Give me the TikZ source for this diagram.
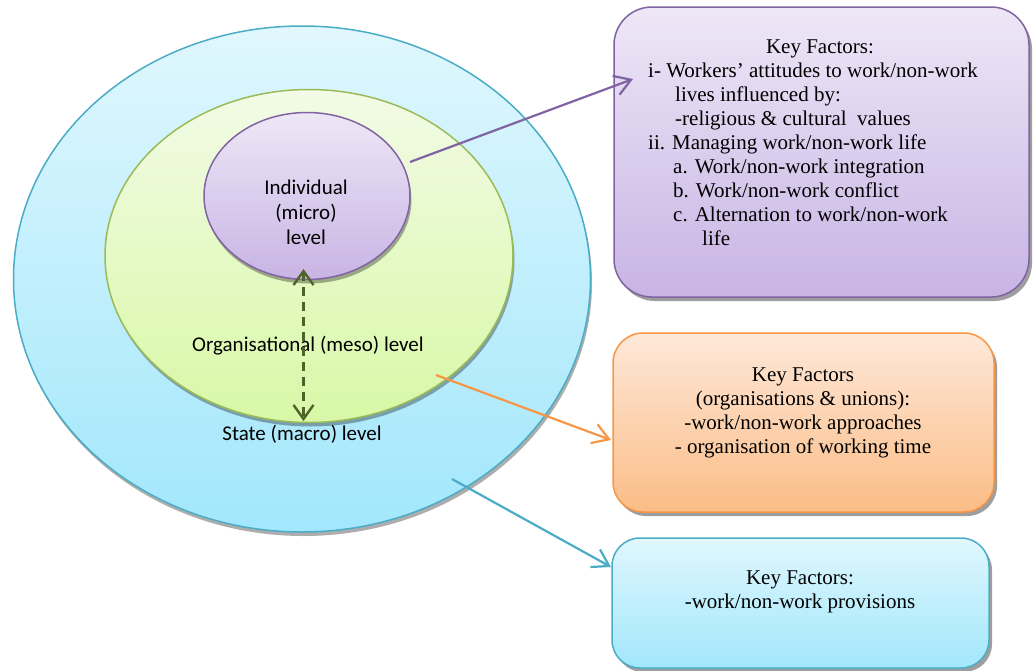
\documentclass[tikz,border=0pt]{standalone}
\usepackage{fontspec}
\setmainfont{Liberation Serif}
\newfontfamily\calibrifont{Carlito}
\usetikzlibrary{shapes.geometric,shadows,arrows.meta}
\definecolor{aquaB}{HTML}{4BACC6}
\definecolor{greenB}{HTML}{9BBB59}
\definecolor{purpB}{HTML}{8064A2}
\definecolor{orangeB}{HTML}{F79646}
\definecolor{oliveA}{HTML}{4F6228}
\definecolor{aquaTop}{HTML}{E0F7FD}
\definecolor{aquaBot}{HTML}{A2E7FC}
\definecolor{greenTop}{HTML}{F2FBE6}
\definecolor{greenBot}{HTML}{D8F8A6}
\definecolor{purpTop}{HTML}{EEE7F7}
\definecolor{purpBot}{HTML}{C8B4E4}
\definecolor{orTop}{HTML}{FEE8D9}
\definecolor{orBot}{HTML}{FBBD86}
\begin{document}
\begin{tikzpicture}[x=1pt,y=-1pt,
  ell/.style={ellipse, inner sep=0pt, outer sep=0pt, line width=1.5pt},
  ellshadow/.style={drop shadow={shadow xshift=1.5pt, shadow yshift=-4pt, fill=black, opacity=0.32}},
  boxshadow/.style={drop shadow={shadow xshift=3pt, shadow yshift=-4pt, fill=black, opacity=0.38}},
  keybox/.style={rectangle, inner sep=0pt, outer sep=0pt, line width=1.5pt},
  serif/.style={font=\fontsize{21}{24}\selectfont, inner sep=0pt},
  sans/.style={font=\calibrifont\fontsize{21}{25}\selectfont, inner sep=0pt},
  conn/.style={line width=2.2pt, -{Straight Barb[length=16pt,width=20pt]}},
  dashconn/.style={line width=2.4pt, draw=oliveA, dash pattern=on 9pt off 6pt,
     {Straight Barb[length=14pt,width=20pt]}-{Straight Barb[length=14pt,width=20pt]}}
]
\useasboundingbox (0,0) rectangle (1034,670);

% concentric levels
\node[ell, ellshadow, draw=aquaB, top color=aquaTop, bottom color=aquaBot,
      minimum width=577pt, minimum height=506pt] (state) at (302,279) {};
\node[ell, ellshadow, draw=greenB, top color=greenTop, bottom color=greenBot,
      minimum width=408pt, minimum height=333pt] (org) at (309,256) {};
\node[ell, ellshadow, draw=purpB, top color=purpTop, bottom color=purpBot,
      minimum width=206pt, minimum height=167pt] (ind) at (307,196) {};

% multi-line texts: base anchor = baseline of the last line
\node[sans, anchor=base, align=center] (indtxt) at (306,244) {Individual\\(micro)\\level};
\node[sans, anchor=base] (orgtxt) at (308,351) {Organisational (meso) level};
\node[sans, anchor=base] (statetxt) at (302,440) {State (macro) level};

% dashed double arrow
\coordinate (dtop) at (303.5,269);
\coordinate (dbot) at (303.5,421);
\draw[dashconn] (dtop) -- (dbot);

% key factor boxes
\node[keybox, boxshadow, draw=purpB, top color=purpTop, bottom color=purpBot,
      rounded corners=38pt, minimum width=415pt, minimum height=290pt] (pbox) at (821.5,152) {};
\node[keybox, boxshadow, draw=orangeB, top color=orTop, bottom color=orBot,
      rounded corners=30pt, minimum width=381pt, minimum height=179pt] (obox) at (803.5,422.5) {};
\node[keybox, boxshadow, draw=aquaB, top color=aquaTop, bottom color=aquaBot,
      rounded corners=28pt, minimum width=377pt, minimum height=130pt] (cbox) at (800.5,603) {};

\node[serif, anchor=base] (ptitle) at (820,53) {Key Factors:};
\node[serif, anchor=base west, align=left] (plist) at (648,245) {%
i- Workers’ attitudes to work/non-work\\
\hspace*{27pt}lives influenced by:\\
\hspace*{27pt}-religious \& cultural\ \ values\\
ii. Managing work/non-work life\\
\hspace*{25pt}a. Work/non-work integration\\
\hspace*{25pt}b. Work/non-work conflict\\
\hspace*{25pt}c. Alternation to work/non-work\\
\hspace*{54pt}life};

\node[serif, anchor=base, align=center] (otxt) at (803,453) {Key Factors\\(organisations \& unions):\\-work/non-work approaches\\- organisation of working time};
\node[serif, anchor=base, align=center] (ctxt) at (800,608) {Key Factors:\\-work/non-work provisions};

% connectors
\coordinate (pstart) at (410,162);
\coordinate (pend) at (633,79);
\coordinate (ostart) at (436,375);
\coordinate (oend) at (611,440);
\coordinate (cstart) at (452,479);
\coordinate (cend) at (611,567);
\draw[conn, draw=purpB] (pstart) -- (pend);
\draw[conn, draw=orangeB] (ostart) -- (oend);
\draw[conn, draw=aquaB] (cstart) -- (cend);
\end{tikzpicture}
\end{document}
